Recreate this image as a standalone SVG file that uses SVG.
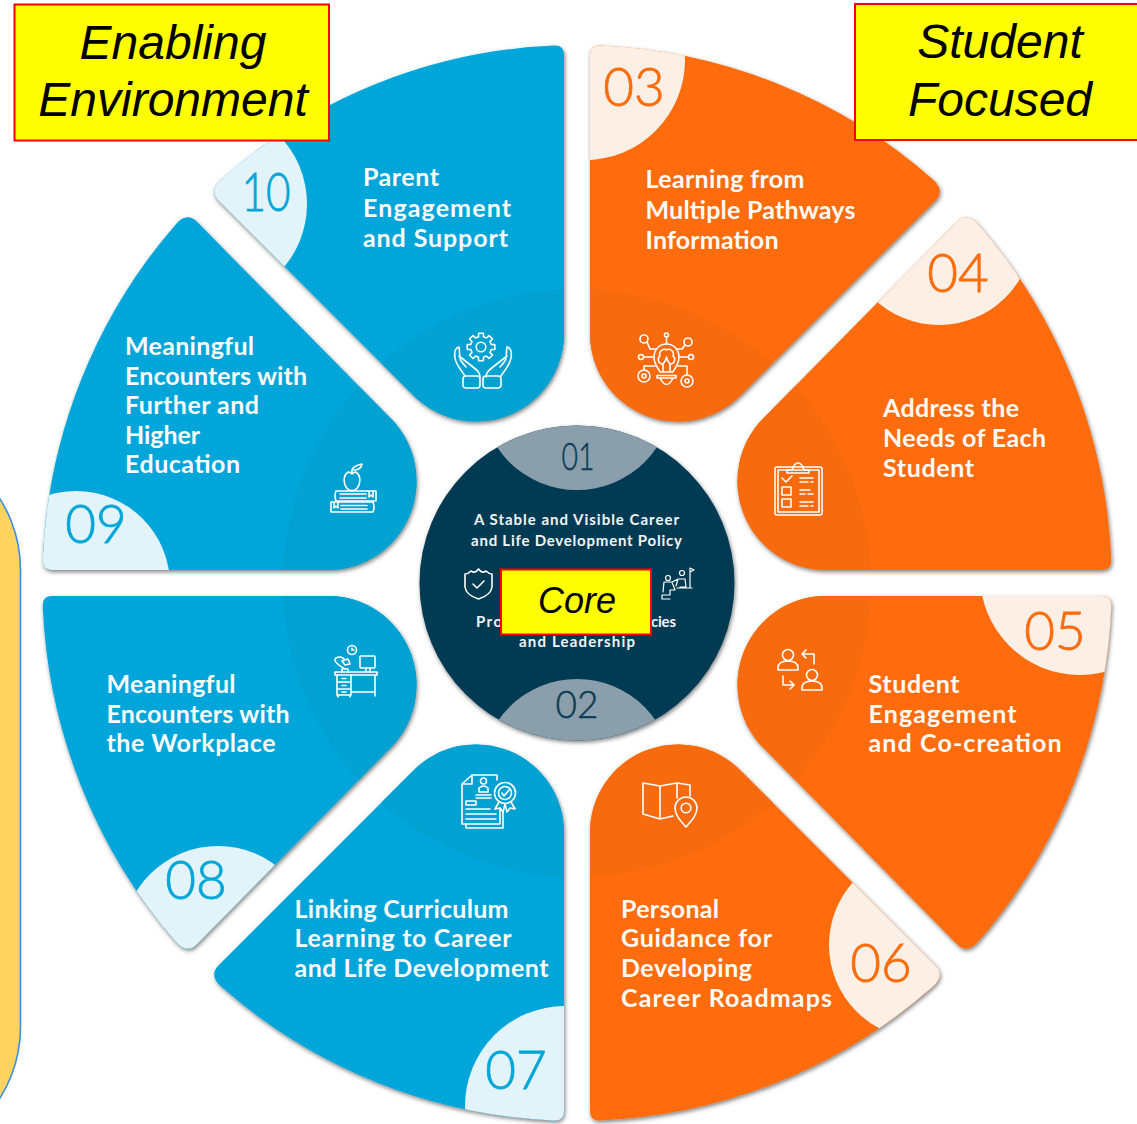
<svg xmlns="http://www.w3.org/2000/svg" width="1137" height="1124" viewBox="0 0 1137 1124">
<style>
.o{fill:#fe6c0c}.od{fill:#f76a0e}.ol{fill:#fcf0e6}
.b{fill:#01a6d9}.bd{fill:#01a1d2}.bl{fill:#e3f3fa}
.t{font-family:"Lato","Liberation Sans",sans-serif;font-weight:700;font-size:25px;fill:#fdfbf8}
.c{font-family:"Lato","Liberation Sans",sans-serif;font-weight:700;font-size:15px;fill:#f2f5f6}
.n{font-family:"Lato","Liberation Sans",sans-serif;font-weight:300;font-size:53px;text-anchor:middle;stroke-width:0.8}
.no{fill:#fe6c0c;stroke:#fe6c0c}.nb{fill:#01a6d9;stroke:#01a6d9}.nc{fill:#0a3d55;stroke:#0a3d55;font-size:37px;stroke-width:0.5}
.ic{fill:none;stroke:#fff;stroke-width:1.6;stroke-linecap:round;stroke-linejoin:round}
.lab{fill:#ffff00;stroke:#ff0000;stroke-width:2}
.lt{font-family:"Liberation Sans",Arial,sans-serif;font-style:italic;font-size:48px;fill:#000;text-anchor:middle}
</style>
<defs>
<path id="shape" d="M13,-528 Q13,-538 23,-537.5 A538,538 0 0 1 356.5,-403.1 Q368.2,-392.2 358.3,-382.3 L163,-187 A88,88 0 0 1 13,-249 Z"/>
<filter id="sh" x="-10%" y="-10%" width="120%" height="120%"><feDropShadow dx="1" dy="2" stdDeviation="2.2" flood-color="#000" flood-opacity="0.5"/></filter>
<clipPath id="c03"><use href="#shape" transform="matrix(1,0,0,1,577,583)"/></clipPath>
<clipPath id="c04"><use href="#shape" transform="matrix(0,-1.008,-0.994,0,577,583)"/></clipPath>
<clipPath id="c05"><use href="#shape" transform="matrix(0,1.008,-0.994,0,577,583)"/></clipPath>
<clipPath id="c06"><use href="#shape" transform="matrix(1,0,0,-1,577,583)"/></clipPath>
<clipPath id="c07"><use href="#shape" transform="matrix(-1,0,0,-1,577,583)"/></clipPath>
<clipPath id="c08"><use href="#shape" transform="matrix(0,1.008,0.994,0,577,583)"/></clipPath>
<clipPath id="c09"><use href="#shape" transform="matrix(0,-1.008,0.994,0,577,583)"/></clipPath>
<clipPath id="c10"><use href="#shape" transform="matrix(-1,0,0,1,577,583)"/></clipPath>
<clipPath id="cc"><circle cx="577" cy="583" r="157.5"/></clipPath>
</defs>

<rect id="side-panel" x="-245" y="437" width="265.5" height="723" rx="133" ry="133" fill="#ffd35f" stroke="#3b8fe0" stroke-width="1.6"/>

<g id="node-03">
<g filter="url(#sh)"><use href="#shape" class="o" transform="matrix(1,0,0,1,577,583)"/></g>
<g clip-path="url(#c03)"><circle class="od" cx="577" cy="583" r="294"/><circle class="ol" cx="585" cy="60" r="100"/></g>
<text class="n no" x="634" y="106">03</text>
<text class="t" x="645.5" y="188" textLength="159">Learning from</text>
<text class="t" x="645.5" y="218.5" textLength="210">Multiple Pathways</text>
<text class="t" x="645.5" y="249" textLength="133">Information</text>
<g class="ic">
<path d="M660,372 C658,368 654,364 654,357 C654,349 660,344 666.500,344 C673,344 679,349 679,357 C679,364 675,368 673,372 Z"/>
<path d="M657,375.500 H676 V378 H657 Z M660,378 Q666.500,391 673,378"/>
<path d="M663,371 V364 C658,364 657,358 660,356 C658,351 664,348 666.500,350 C669,348 675,351 673,356 C676,358 675,364 670,364 V371 M663,364 Q666,361 666.500,357 M670,364 Q667,361 666.500,357"/>
<circle cx="644" cy="339" r="4"/><circle cx="666.500" cy="335" r="2"/><circle cx="688" cy="342" r="4"/><circle cx="641" cy="357" r="2.500"/><circle cx="691" cy="357" r="2.500"/>
<circle cx="644" cy="376" r="6"/><circle cx="644" cy="376" r="2"/><circle cx="687" cy="381" r="6"/><circle cx="687" cy="381" r="2"/>
<path d="M647,342 L650,349 H656 M666.500,337 V343 M685,345 L682,349 H677 M644,357 H653 M688,357 H680 M644,370 V366 H655 M687,375 V366 H678"/>
</g>
</g>

<g id="node-04">
<g filter="url(#sh)"><use href="#shape" class="o" transform="matrix(0,-1.008,-0.994,0,577,583)"/></g>
<g clip-path="url(#c04)"><circle class="od" cx="577" cy="583" r="294"/><circle class="ol" cx="939" cy="231" r="94"/></g>
<text class="n no" x="958" y="291.500">04</text>
<text class="t" x="883" y="417" textLength="136">Address the</text>
<text class="t" x="883" y="447" textLength="163">Needs of Each</text>
<text class="t" x="883" y="476.500" textLength="91">Student</text>
<g class="ic">
<rect x="775" y="467" width="47" height="48" rx="2"/><rect x="778" y="470" width="41" height="42"/>
<path d="M787,470 V473 H809 V470 H804 Q802,463 798,463 Q794,463 792,470 Z"/>
<path d="M782,478 L786,482 L792,476 M800,478 H813 M800,482 H808 M811,482 H813 M800,490 H810 M800,494 H805 M808,494 H813 M800,502 H813 M800,506 H808 M811,506 H813"/>
<rect x="782" y="487" width="9" height="8"/><rect x="782" y="499" width="9" height="8"/>
</g>
</g>

<g id="node-05">
<g filter="url(#sh)"><use href="#shape" class="o" transform="matrix(0,1.008,-0.994,0,577,583)"/></g>
<g clip-path="url(#c05)"><circle class="od" cx="577" cy="583" r="294"/><circle class="ol" cx="1080" cy="575" r="100"/></g>
<text class="n no" x="1055" y="649.500">05</text>
<text class="t" x="868.500" y="693" textLength="91">Student</text>
<text class="t" x="868.500" y="722.500" textLength="148">Engagement</text>
<text class="t" x="868.500" y="752" textLength="193">and Co-creation</text>
<g class="ic">
<circle cx="788" cy="655" r="5.500"/><path d="M778,670 V668 C778,662 783,661 788,661 C793,661 798,662 798,668 V670 Z"/>
<path d="M814,664 V654 H802 M806,650 L802,654 L806,658"/>
<circle cx="812" cy="675" r="5.500"/><path d="M802,690 V688 C802,682 807,681 812,681 C817,681 822,682 822,688 V690 Z"/>
<path d="M783,676 V685 H794 M790,681 L794,685 L790,689"/>
</g>
</g>

<g id="node-06">
<g filter="url(#sh)"><use href="#shape" class="o" transform="matrix(1,0,0,-1,577,583)"/></g>
<g clip-path="url(#c06)"><circle class="od" cx="577" cy="583" r="294"/><circle class="ol" cx="923" cy="945" r="94"/></g>
<text class="n no" x="881" y="982">06</text>
<text class="t" x="621" y="917.500" textLength="98">Personal</text>
<text class="t" x="621" y="947" textLength="151">Guidance for</text>
<text class="t" x="621" y="977" textLength="131">Developing</text>
<text class="t" x="621" y="1006.500" textLength="211">Career Roadmaps</text>
<g class="ic">
<path d="M677,798 V783 L660,786 L643,783 V814 L660,819 L673,816 M660,786 V819 M677,783 L690,785 V796"/>
<path d="M686,827 C680,820 675,815 675,808 C675,802 680,797 686,797 C692,797 697,802 697,808 C697,815 692,820 686,827 Z"/><circle cx="686" cy="808" r="4.800"/>
</g>
</g>

<g id="node-07">
<g filter="url(#sh)"><use href="#shape" class="b" transform="matrix(-1,0,0,-1,577,583)"/></g>
<g clip-path="url(#c07)"><circle class="bd" cx="577" cy="583" r="294"/><circle class="bl" cx="565" cy="1106" r="100"/></g>
<text class="n nb" x="516" y="1089">07</text>
<text class="t" x="294.500" y="917.500" textLength="214">Linking Curriculum</text>
<text class="t" x="294.500" y="947" textLength="217">Learning to Career</text>
<text class="t" x="294.500" y="977" textLength="254">and Life Development</text>
<g class="ic">
<path d="M497,780 V775 H472 L462,784 V824 H500 V808 M472,775 V784 H462 M466,824 V828 H503 V812"/>
<circle cx="483.500" cy="781" r="3"/><path d="M479,792 V788 Q483.500,784 488,788 V792 Z M476,795 H491 M476,798 H491 M466,801 H476 V805 H466 Z M466,809 H490 M466,814 H496 M466,819 H496"/>
<circle cx="505" cy="793" r="10.500"/><circle cx="505" cy="793" r="6.500"/><path d="M502,793 L504,796 L509,790 M499,802 L495,809 L500,808 L503,812 L505,804 L507,812 L510,808 L515,809 L511,802"/>
</g>
</g>

<g id="node-08">
<g filter="url(#sh)"><use href="#shape" class="b" transform="matrix(0,1.008,0.994,0,577,583)"/></g>
<g clip-path="url(#c08)"><circle class="bd" cx="577" cy="583" r="294"/><circle class="bl" cx="218" cy="942" r="96"/></g>
<text class="n nb" x="196" y="899">08</text>
<text class="t" x="106.500" y="693" textLength="129">Meaningful</text>
<text class="t" x="106.500" y="722.500" textLength="183">Encounters with</text>
<text class="t" x="106.500" y="752" textLength="169">the Workplace</text>
<g class="ic">
<circle cx="352" cy="650" r="4.500"/><path d="M352,648 V650 H354"/>
<rect x="360" y="656" width="15" height="12" rx="1"/><path d="M366,668 V672 M370,668 V672"/>
<path d="M335,672 H377 V675 H335 Z M337,675 V695 H351 V675 M337,682 H351 M337,689 H351 M342,678.500 H346 M342,685.500 H346 M342,692 H346 M351,692 H375 M375,675 V696 M338,695 V697 M350,695 V697"/>
<path d="M342,672 V669 H348 V672 M345,669 C340,666 332,661 336,658 C339,656 343,657 345,660 M342,661 L348,659 L350,664 L345,665 Z"/>
</g>
</g>

<g id="node-09">
<g filter="url(#sh)"><use href="#shape" class="b" transform="matrix(0,-1.008,0.994,0,577,583)"/></g>
<g clip-path="url(#c09)"><circle class="bd" cx="577" cy="583" r="294"/><circle class="bl" cx="76" cy="585" r="94"/></g>
<text class="n nb" x="96" y="543">09</text>
<text class="t" x="125" y="355" textLength="129">Meaningful</text>
<text class="t" x="125" y="384.500" textLength="182">Encounters with</text>
<text class="t" x="125" y="414" textLength="134">Further and</text>
<text class="t" x="125" y="443.500" textLength="75">Higher</text>
<text class="t" x="125" y="473" textLength="115">Education</text>
<g class="ic">
<path d="M347,473 C343,476 343,486 349,490 Q352,491 355,490 C361,486 361,476 357,473 C355,471 353,473 352,474 C351,473 349,471 347,473 Z M352,474 V470 Q353,466 362,464 Q361,470 354,470"/>
<path d="M376,491 H336 Q334,496 336,501 H376 M376,491 V501 M340,494 H366 M340,498 H366 M369,491 V497 L371,495 L373,497 V491"/>
<path d="M331,502 H373 Q375,507 373,512 H331 Z M341,505.500 H367 M341,509 H367 M334,502 V508 L336,506 L338,508 V502"/>
</g>
</g>

<g id="node-10">
<g filter="url(#sh)"><use href="#shape" class="b" transform="matrix(-1,0,0,1,577,583)"/></g>
<g clip-path="url(#c10)"><circle class="bd" cx="577" cy="583" r="294"/><circle class="bl" cx="209" cy="204" r="98"/></g>
<text class="n nb" x="266" y="211" textLength="49" lengthAdjust="spacingAndGlyphs">10</text>
<text class="t" x="363" y="186" textLength="76">Parent</text>
<text class="t" x="363" y="216.500" textLength="148">Engagement</text>
<text class="t" x="363" y="247" textLength="145">and Support</text>
<g class="ic">
<polygon transform="translate(481 347)" points="13.800,-2.400 13.800,2.400 10.200,2.500 9,5.400 11.500,8 8,11.500 5.400,9 2.500,10.200 2.400,13.800 -2.400,13.800 -2.500,10.200 -5.400,9 -8,11.500 -11.500,8 -9,5.400 -10.200,2.500 -13.800,2.400 -13.800,-2.400 -10.200,-2.500 -9,-5.400 -11.500,-8 -8,-11.500 -5.400,-9 -2.500,-10.200 -2.400,-13.800 2.400,-13.800 2.500,-10.200 5.400,-9 8,-11.500 11.500,-8 9,-5.400 10.200,-2.500"/>
<circle cx="481" cy="347" r="4.800"/>
<path d="M459,347 C455,348 454,352 455,358 C456,365 462,371 465,376 M459,347 C460,352 459,358 461,361 L466,367 M459,356 L473,367 C478,371 480,373 480,377"/>
<rect x="463" y="376" width="17" height="12" rx="3"/>
<path d="M507,347 C511,348 512,352 511,358 C510,365 504,371 501,376 M507,347 C506,352 507,358 505,361 L500,367 M507,356 L493,367 C488,371 486,373 486,377"/>
<rect x="483" y="376" width="18" height="12" rx="3"/>
</g>
</g>

<g id="node-core">
<g filter="url(#sh)"><circle cx="577" cy="583" r="157.500" fill="#023a52"/></g>
<g clip-path="url(#cc)"><circle cx="577" cy="394" r="96" fill="#8a9fab"/><circle cx="577" cy="774.500" r="95.500" fill="#8a9fab"/></g>
<text class="n nc" x="578" y="470" textLength="33" lengthAdjust="spacingAndGlyphs">01</text>
<text class="n nc" x="577" y="718">02</text>
<text class="c" x="474" y="525" textLength="205">A Stable and Visible Career</text>
<text class="c" x="471" y="546" textLength="211">and Life Development Policy</text>
<text class="c" x="476" y="626.500" textLength="26">Pro</text>
<text class="c" x="651" y="626.500" textLength="25">cies</text>
<text class="c" x="519" y="647" textLength="116">and Leadership</text>
<g class="ic">
<path d="M465,574 Q468,574 471,571 Q475,574 478.500,569 Q482,574 486,571 Q489,574 492,574 V587 Q491,595 478.500,599 Q466,595 465,587 Z"/>
<path d="M473,584 L477,588 L484,581"/>
</g>
<g class="ic" style="stroke-width:1.2">
<circle cx="668" cy="578" r="2.500"/><circle cx="682" cy="573" r="2.500"/>
<path d="M690,587 V568 L694,570 L690,572 M677,588 H692 M664,582 H672 L675,590 L670,590 V595 H662 V599 H670 M664,582 L663,592 M672,582 L678,579 H685 L686,587 H680 M678,579 L676,586"/>
</g>
</g>

<g id="label-core"><rect class="lab" x="501" y="569.500" width="150" height="65"/><text class="lt" style="font-size:36px" x="577" y="613">Core</text></g>
<g id="label-enabling"><rect class="lab" x="14.500" y="4.500" width="314.500" height="136"/><text class="lt" x="173" y="58.500">Enabling</text><text class="lt" x="173" y="116">Environment</text></g>
<g id="label-student"><rect class="lab" x="855" y="4" width="295" height="136"/><text class="lt" x="1000" y="58">Student</text><text class="lt" x="1000" y="116">Focused</text></g>
</svg>
